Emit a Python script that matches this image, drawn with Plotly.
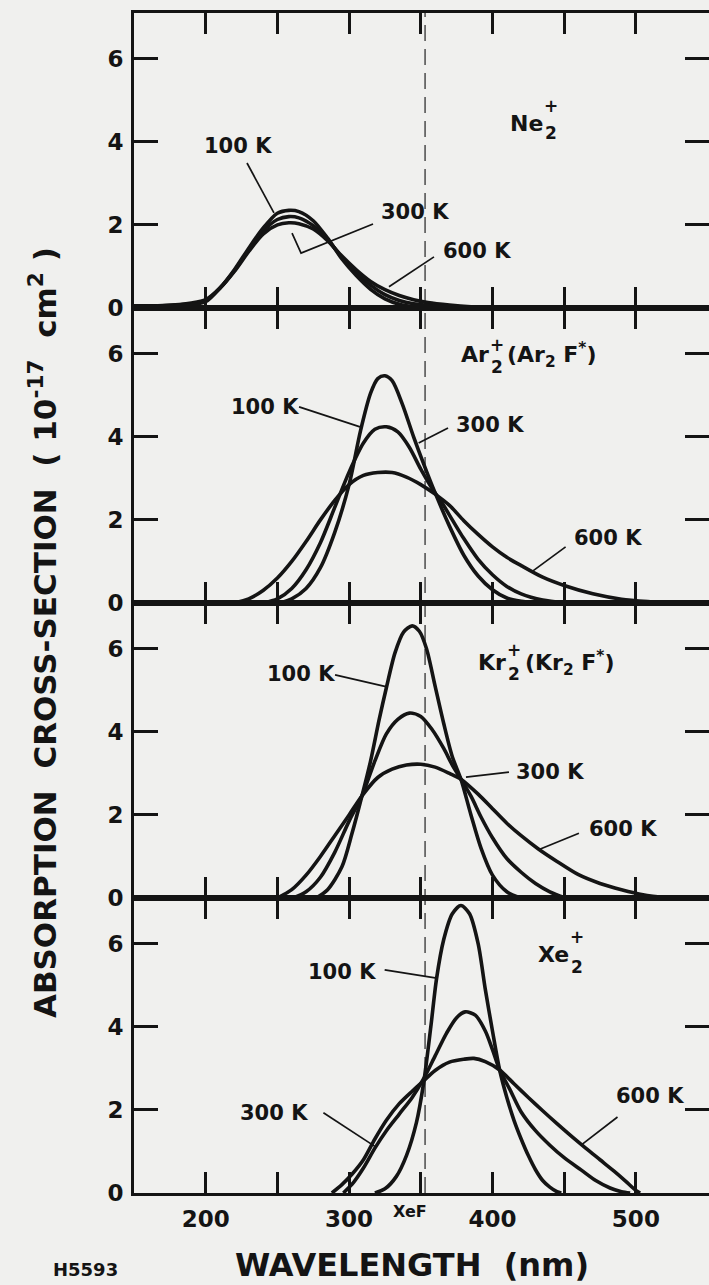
import plotly.graph_objects as go
from plotly.subplots import make_subplots

# ---------------- data ----------------
temps = ["100 K", "300 K", "600 K"]

# Ne2+
ne_wl_100 = [150, 170, 190, 200, 210, 220, 230, 240, 250, 258, 265, 275, 285, 295, 305, 315, 325, 335, 345, 355, 370]
ne_100 = [0.03, 0.04, 0.08, 0.15, 0.48, 0.92, 1.44, 1.92, 2.28, 2.35, 2.32, 2.1, 1.68, 1.18, 0.78, 0.45, 0.22, 0.09, 0.03, 0.01, 0.0]
ne_wl_300 = [150, 170, 190, 200, 210, 220, 230, 240, 250, 258, 265, 275, 285, 295, 305, 315, 325, 335, 345, 355, 370, 385]
ne_300 = [0.04, 0.05, 0.1, 0.18, 0.48, 0.9, 1.4, 1.85, 2.13, 2.2, 2.17, 1.98, 1.65, 1.22, 0.85, 0.55, 0.32, 0.18, 0.1, 0.06, 0.02, 0.0]
ne_wl_600 = [150, 170, 190, 200, 210, 220, 230, 240, 250, 258, 265, 275, 285, 295, 305, 315, 325, 335, 345, 355, 370, 385, 400]
ne_600 = [0.05, 0.06, 0.12, 0.2, 0.48, 0.88, 1.36, 1.78, 2.0, 2.05, 2.03, 1.9, 1.62, 1.25, 0.92, 0.64, 0.44, 0.3, 0.2, 0.13, 0.07, 0.03, 0.01]

# Ar2+ (Ar2F*)
ar_wl_100 = [252, 260, 270, 280, 290, 300, 308, 315, 320, 325, 330, 337, 345, 352, 360, 370, 380, 390, 400, 410, 420, 430]
ar_100 = [0, 0.1, 0.35, 0.85, 1.7, 2.85, 4.15, 5.05, 5.4, 5.47, 5.35, 4.8, 4.0, 3.35, 2.65, 1.85, 1.15, 0.65, 0.32, 0.12, 0.04, 0]
ar_wl_300 = [240, 250, 260, 270, 280, 290, 300, 310, 318, 326, 334, 342, 350, 358, 365, 372, 380, 390, 400, 410, 420, 435, 450]
ar_300 = [0, 0.1, 0.35, 0.8, 1.45, 2.3, 3.15, 3.85, 4.18, 4.24, 4.12, 3.75, 3.22, 2.75, 2.4, 2.0, 1.55, 1.05, 0.68, 0.4, 0.22, 0.07, 0]
ar_wl_600 = [220, 230, 240, 250, 260, 270, 280, 290, 300, 310, 320, 330, 340, 350, 360, 370, 380, 390, 400, 410, 420, 435, 450, 470, 490, 510, 525]
ar_600 = [0, 0.1, 0.3, 0.6, 1.0, 1.48, 2.0, 2.47, 2.85, 3.07, 3.14, 3.14, 3.03, 2.85, 2.62, 2.35, 1.98, 1.65, 1.35, 1.1, 0.9, 0.62, 0.42, 0.22, 0.09, 0.03, 0]

# Kr2+ (Kr2F*)
kr_wl_100 = [277, 285, 295, 302, 309, 315, 321, 326, 332, 338, 344, 349, 354, 360, 366, 372, 378, 385, 392, 400, 410, 420]
kr_100 = [0, 0.2, 0.75, 1.55, 2.46, 3.3, 4.3, 5.06, 5.9, 6.4, 6.55, 6.42, 6.0, 5.1, 4.2, 3.4, 2.86, 2.0, 1.2, 0.55, 0.15, 0]
kr_wl_300 = [261, 270, 280, 290, 300, 309, 318, 326, 334, 342, 350, 358, 366, 372, 378, 385, 392, 400, 410, 420, 430, 440, 451]
kr_300 = [0, 0.15, 0.5, 1.1, 1.85, 2.46, 3.3, 3.95, 4.3, 4.45, 4.37, 4.05, 3.6, 3.2, 2.86, 2.45, 1.95, 1.45, 0.95, 0.62, 0.35, 0.15, 0]
kr_wl_600 = [250, 260, 270, 280, 290, 300, 309, 320, 330, 340, 350, 360, 370, 378, 390, 400, 410, 420, 432, 445, 460, 475, 490, 505, 523]
kr_600 = [0, 0.2, 0.55, 1.0, 1.5, 2.0, 2.46, 2.9, 3.1, 3.2, 3.22, 3.15, 3.0, 2.86, 2.5, 2.15, 1.8, 1.5, 1.18, 0.88, 0.56, 0.35, 0.2, 0.08, 0]

# Xe2+
xe_wl_100 = [318, 325, 333, 340, 347, 352, 357, 361, 366, 372, 378, 384, 390, 395, 400, 405, 410, 415, 420, 425, 430, 435, 440, 445, 448]
xe_100 = [0, 0.1, 0.4, 0.9, 1.7, 2.65, 4.0, 5.16, 6.1, 6.72, 6.92, 6.72, 6.0, 4.9, 3.9, 2.96, 2.3, 1.75, 1.3, 0.9, 0.56, 0.3, 0.14, 0.03, 0]
xe_wl_300 = [296, 303, 310, 318, 326, 335, 344, 352, 360, 368, 375, 381, 388, 395, 400, 405, 412, 420, 430, 440, 450, 462, 472, 482, 490, 496]
xe_300 = [0, 0.25, 0.6, 1.08, 1.5, 1.9, 2.3, 2.75, 3.3, 3.85, 4.22, 4.36, 4.28, 3.9, 3.45, 2.96, 2.5, 1.95, 1.5, 1.15, 0.85, 0.55, 0.3, 0.12, 0.03, 0]
xe_wl_600 = [288, 295, 302, 310, 318, 326, 335, 344, 352, 360, 370, 380, 387, 395, 405, 415, 425, 435, 445, 455, 465, 475, 485, 493, 500, 503]
xe_600 = [0, 0.2, 0.45, 0.8, 1.3, 1.75, 2.15, 2.45, 2.7, 2.95, 3.15, 3.22, 3.24, 3.16, 2.96, 2.63, 2.3, 1.98, 1.67, 1.37, 1.08, 0.8, 0.52, 0.28, 0.06, 0]

# species labels: element symbol, stacked "2" / "+", optional tail
sp_main = ["Ne", "Ar", "Kr", "Xe"]
sp_main_right_x = [436.6, 399.0, 410.8, 454.7]
sp_main_y = [4.45, 5.97, 5.66, 5.73]
sp_two_x = [440.8, 403.1, 414.8, 458.9]
sp_two_y = [4.2, 5.68, 5.38, 5.45]
sp_plus_y = [4.86, 6.2, 5.97, 6.16]
sp_tail = ["", "(Ar<sub>2</sub> F<sup>*</sup>)", "(Kr<sub>2</sub> F<sup>*</sup>)", ""]
sp_tail_x = [0, 409.0, 421.5, 0]

# temperature label positions (x nm, y) for 100 K, 300 K, 600 K in each panel
ne_lab_x = [222.5, 346, 389]
ne_lab_y = [3.9, 2.31, 1.37]
ar_lab_x = [241.4, 398.3, 480.5]
ar_lab_y = [4.72, 4.28, 1.56]
kr_lab_x = [266.5, 440.1, 491]
kr_lab_y = [5.39, 3.03, 1.66]
xe_lab_x = [295, 247.6, 509.8]
xe_lab_y = [5.32, 1.93, 2.33]

# leader lines (x list, y list)
ne_leaders = [([228.8, 247.6], [3.49, 2.29]),
              ([316.7, 266.5, 260.2], [2.02, 1.32, 1.8]),
              ([359.2, 327.8], [1.23, 0.51])]
ar_leaders = [([265.1, 307.6], [4.72, 4.24]),
              ([369, 348.5], [4.21, 3.85]),
              ([451, 427.3], [1.35, 0.75])]
kr_leaders = [([290.2, 326.4], [5.37, 5.08]),
              ([411.5, 381.5], [3.03, 2.91]),
              ([460.3, 432.1], [1.56, 1.16])]
xe_leaders = [([324.8, 361.1], [5.37, 5.17]),
              ([282.1, 318.5], [1.93, 1.11]),
              ([487.2, 462], [1.83, 1.16])]

xef_nm = 353
x_range = [150, 551]
y_range = [0, 7.1]
x_major = [200, 300, 400, 500]
x_minor = [250, 350, 450]
y_ticks = [0, 2, 4, 6]

# ---------------- figure ----------------
ink = "#141414"
bg = "#f0f0ee"
FONT = "DejaVu Sans"

panels = [
    ((ne_wl_100, ne_100), (ne_wl_300, ne_300), (ne_wl_600, ne_600), ne_lab_x, ne_lab_y, ne_leaders),
    ((ar_wl_100, ar_100), (ar_wl_300, ar_300), (ar_wl_600, ar_600), ar_lab_x, ar_lab_y, ar_leaders),
    ((kr_wl_100, kr_100), (kr_wl_300, kr_300), (kr_wl_600, kr_600), kr_lab_x, kr_lab_y, kr_leaders),
    ((xe_wl_100, xe_100), (xe_wl_300, xe_300), (xe_wl_600, xe_600), xe_lab_x, xe_lab_y, xe_leaders),
]

fig = make_subplots(rows=4, cols=1, shared_xaxes=True, vertical_spacing=0)


def bold(size):
    return dict(family=FONT, size=size, color=ink, weight="bold")


annotations = []
for i, (c1, c2, c3, lx, ly, leaders) in enumerate(panels):
    r = i + 1
    sfx = "" if r == 1 else str(r)
    xr, yr = "x" + sfx, "y" + sfx
    for wl, val in (c3, c2, c1):
        fig.add_trace(go.Scatter(x=wl, y=val, mode="lines",
                                 line=dict(color=ink, width=3.6, shape="spline", smoothing=0.8),
                                 showlegend=False, hoverinfo="skip"), row=r, col=1)
    for lxs, lys in leaders:
        fig.add_trace(go.Scatter(x=lxs, y=lys, mode="lines",
                                 line=dict(color=ink, width=1.7),
                                 showlegend=False, hoverinfo="skip"), row=r, col=1)
    for t, xx, yy in zip(temps, lx, ly):
        annotations.append(dict(x=xx, y=yy, xref=xr, yref=yr, text=t, showarrow=False,
                                xanchor="center", yanchor="middle", font=bold(21)))
    annotations.append(dict(x=sp_main_right_x[i], y=sp_main_y[i], xref=xr, yref=yr,
                            text=sp_main[i], showarrow=False, xanchor="right",
                            yanchor="middle", font=bold(22)))
    annotations.append(dict(x=sp_two_x[i], y=sp_two_y[i], xref=xr, yref=yr, text="2",
                            showarrow=False, xanchor="center", yanchor="middle",
                            font=bold(17)))
    annotations.append(dict(x=sp_two_x[i], y=sp_plus_y[i], xref=xr, yref=yr, text="+",
                            showarrow=False, xanchor="center", yanchor="middle",
                            font=bold(17)))
    if sp_tail[i]:
        annotations.append(dict(x=sp_tail_x[i], y=sp_main_y[i], xref=xr, yref=yr,
                                text=sp_tail[i], showarrow=False, xanchor="left",
                                yanchor="middle", font=bold(22)))
    fig.update_xaxes(range=x_range, tickvals=x_major, ticktext=[str(v) for v in x_major],
                     ticks="inside", ticklen=21, tickwidth=2.5, tickcolor=ink,
                     minor=dict(tickvals=x_minor, ticks="inside", ticklen=21,
                                tickwidth=2.5, tickcolor=ink, showgrid=False),
                     showline=True, linewidth=3, linecolor=ink, mirror="ticks",
                     showgrid=False, zeroline=False, ticklabelstandoff=3,
                     tickfont=bold(23), row=r, col=1)
    fig.update_yaxes(range=y_range, tickvals=y_ticks, ticks="inside", ticklen=24,
                     tickwidth=2.5, tickcolor=ink, showline=True, linewidth=3,
                     linecolor=ink, mirror=False, showgrid=False, zeroline=False,
                     ticklabelstandoff=3, tickfont=bold(23), row=r, col=1)
    # right-side inward ticks (no line)
    ov = "yaxis" + str(4 + r)
    fig.update_layout(**{ov: dict(overlaying=yr, side="right", anchor=xr,
                                  range=y_range, tickvals=y_ticks[1:], ticks="inside",
                                  ticklen=24, tickwidth=2.5, tickcolor=ink,
                                  showticklabels=False, showline=False, showgrid=False,
                                  zeroline=False)})
    fig.add_trace(go.Scatter(x=[None], y=[None], xaxis=xr, yaxis="y" + str(4 + r),
                             showlegend=False, hoverinfo="skip"))

# XeF dashed line across all panels
fig.add_shape(type="line", xref="x", yref="paper", x0=xef_nm, x1=xef_nm, y0=0, y1=1,
              line=dict(color="#555555", width=1.6, dash="16px,8px"), layer="below")

annotations += [
    dict(x=-0.159, y=0.475, xref="paper", yref="paper", textangle=-90, showarrow=False,
         text="ABSORPTION  CROSS-SECTION  ( 10<sup>-17</sup>  cm<sup>2</sup> )",
         xanchor="center", yanchor="middle", font=bold(31)),
    dict(x=0.4835, y=-0.0785, xref="paper", yref="paper", showarrow=False,
         text="WAVELENGTH  (nm)", xanchor="center", yanchor="bottom", font=bold(32)),
    dict(x=-0.085, y=-0.065, xref="paper", yref="paper", showarrow=False,
         text="H5593", xanchor="center", yanchor="middle", font=bold(18)),
    dict(x=0.48, y=-0.016, xref="paper", yref="paper", showarrow=False,
         text="XeF", xanchor="center", yanchor="middle", font=bold(16)),
]

fig.update_layout(width=709, height=1285, margin=dict(l=134, r=0, t=13, b=92),
                  paper_bgcolor=bg, plot_bgcolor=bg, showlegend=False,
                  annotations=annotations)

fig.write_html("out.html", config={"displayModeBar": False},
               post_script="document.body.style.margin='0px';"
                           "document.body.style.background='#f0f0ee';")
